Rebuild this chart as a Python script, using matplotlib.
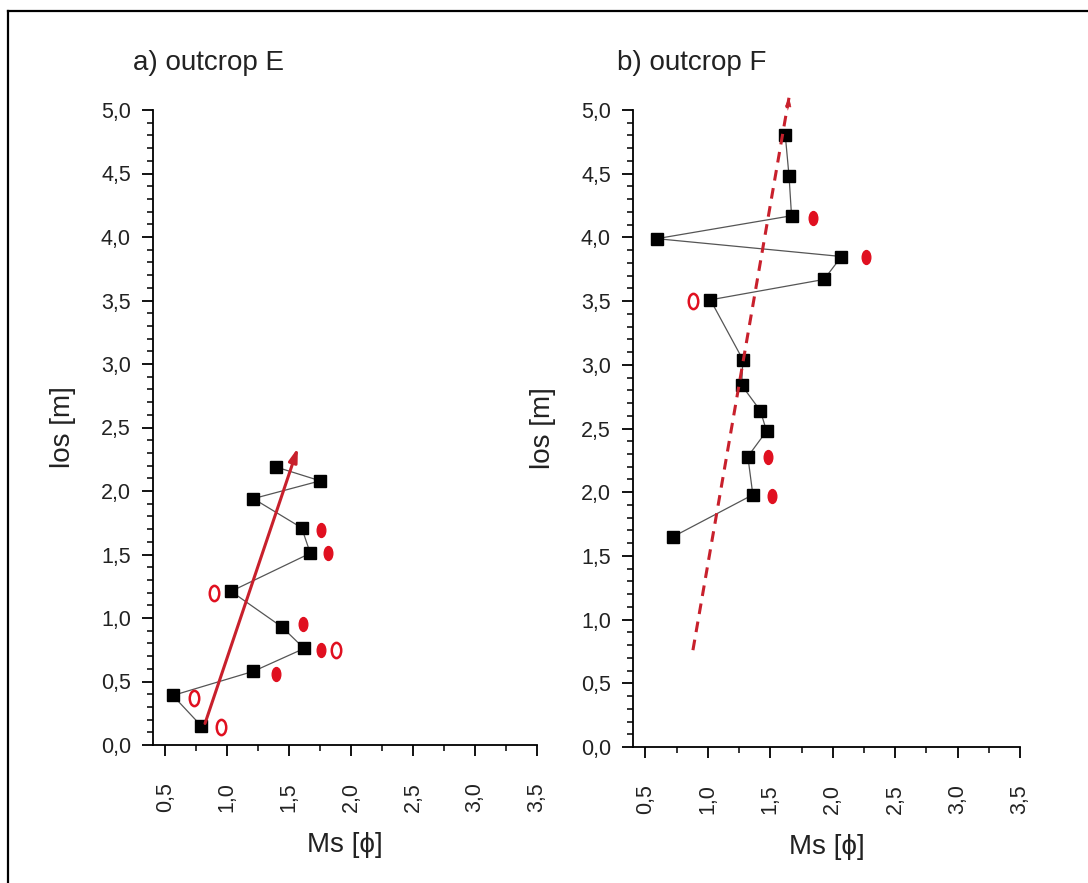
import matplotlib
matplotlib.use("Agg")
import matplotlib.pyplot as plt
import numpy as np
from matplotlib.path import Path
from matplotlib.transforms import Affine2D
from matplotlib.ticker import MultipleLocator, FuncFormatter
from matplotlib.lines import Line2D

plt.rcParams['font.family'] = ['Liberation Sans', 'DejaVu Sans']

# ── Data: outcrop E ─────────────────────────────────────
e_ms = [1.39, 1.75, 1.21, 1.60, 1.67, 1.03, 1.44, 1.62, 1.21, 0.56, 0.79]
e_los = [2.19, 2.08, 1.94, 1.71, 1.51, 1.21, 0.93, 0.76, 0.58, 0.39, 0.15]
e_fill_ms = [1.76, 1.81, 1.61, 1.76, 1.39]
e_fill_los = [1.69, 1.51, 0.95, 0.75, 0.56]
e_open_ms = [0.89, 1.88, 0.73, 0.95]
e_open_los = [1.20, 0.75, 0.37, 0.14]
e_trend_ms = [0.82, 1.57]
e_trend_los = [0.17, 2.34]

# ── Data: outcrop F ─────────────────────────────────────
f_ms = [1.62, 1.65, 1.67, 0.59, 2.07, 1.93, 1.02, 1.28, 1.27, 1.42, 1.47, 1.32, 1.36, 0.72]
f_los = [4.80, 4.48, 4.17, 3.99, 3.85, 3.67, 3.51, 3.04, 2.84, 2.64, 2.48, 2.28, 1.98, 1.65]
f_fill_ms = [1.84, 2.27, 1.48, 1.51]
f_fill_los = [4.15, 3.85, 2.28, 1.97]
f_open_ms = [0.88]
f_open_los = [3.50]
f_trend_ms = [0.88, 1.65]
f_trend_los = [0.76, 5.10]

red = "#e01020"
arrow_red = "#c8202c"

# ellipse marker
ellipse = Path.unit_circle().transformed(Affine2D().scale(0.62, 1.0))

fig = plt.figure(figsize=(10.88, 8.83), dpi=100)
axE = fig.add_axes([153 / 1088, 138 / 883, 384 / 1088, 635 / 883])
axF = fig.add_axes([633 / 1088, 136 / 883, 387 / 1088, 637 / 883])

fmt = FuncFormatter(lambda v, p: f"{v:.1f}".replace(".", ","))


def style(ax, title, title_x):
    ax.set_xlim(0.4, 3.5)
    ax.set_ylim(0, 5.0)
    ax.spines["top"].set_visible(False)
    ax.spines["right"].set_visible(False)
    for s in ("left", "bottom"):
        ax.spines[s].set_linewidth(1.3)
    ax.xaxis.set_major_locator(MultipleLocator(0.5))
    ax.xaxis.set_minor_locator(MultipleLocator(0.25))
    ax.yaxis.set_major_locator(MultipleLocator(0.5))
    ax.yaxis.set_minor_locator(MultipleLocator(0.1))
    ax.set_xticks(np.arange(0.5, 3.51, 0.5))
    ax.xaxis.set_major_formatter(fmt)
    ax.yaxis.set_major_formatter(fmt)
    ax.tick_params(which="major", direction="out", length=8, width=1.3,
                   labelsize=15.5, labelcolor="#222222")
    ax.tick_params(which="minor", direction="out", length=4.5, width=1.1)
    ax.tick_params(axis="x", which="major", pad=19, labelrotation=90)
    ax.tick_params(axis="y", which="major", pad=8)
    ax.set_xlabel("Ms [\u03d5]", fontsize=20, labelpad=14, color="#222222")
    ax.set_ylabel("los [m]", fontsize=20, labelpad=18, color="#222222")
    fig.text(title_x / 1088, 1 - 63 / 883, title, fontsize=20,
             ha="left", va="center", color="#222222")


def draw(ax, ms, los, fill_ms, fill_los, open_ms, open_los):
    ax.plot(ms, los, color="#555555", linewidth=0.9, zorder=2)
    ax.plot(ms, los, linestyle="none", marker="s", markersize=8,
            color="black", zorder=3)
    ax.plot(fill_ms, fill_los, linestyle="none", marker=ellipse,
            markersize=10, color=red, markeredgecolor=red, zorder=3)
    ax.plot(open_ms, open_los, linestyle="none", marker=ellipse,
            markersize=11, markerfacecolor="none", markeredgecolor=red,
            markeredgewidth=1.8, zorder=3)


draw(axE, e_ms, e_los, e_fill_ms, e_fill_los, e_open_ms, e_open_los)
draw(axF, f_ms, f_los, f_fill_ms, f_fill_los, f_open_ms, f_open_los)

# solid trend arrow (E)
axE.annotate("", xy=(e_trend_ms[1], e_trend_los[1]),
             xytext=(e_trend_ms[0], e_trend_los[0]),
             arrowprops=dict(arrowstyle="-|>,head_length=0.8,head_width=0.25",
                             color=arrow_red, linewidth=2.2, shrinkA=0, shrinkB=0),
             annotation_clip=False, zorder=4)

# dashed trend arrow (F)
axF.plot(f_trend_ms, f_trend_los, color=arrow_red, linewidth=2.2,
         linestyle=(0, (3.5, 2.5)), clip_on=False, zorder=4)
axF.annotate("", xy=(f_trend_ms[1], f_trend_los[1]),
             xytext=(f_trend_ms[1] - 0.01, f_trend_los[1] - 0.1),
             arrowprops=dict(arrowstyle="-|>,head_length=0.6,head_width=0.2",
                             color=arrow_red, linewidth=0.5, shrinkA=0, shrinkB=0),
             annotation_clip=False, zorder=4)

style(axE, "a) outcrop E", 133)
style(axF, "b) outcrop F", 617)

# outer frame (top and left edges visible)
fig.add_artist(Line2D([8 / 1088, 1.0], [1 - 11 / 883, 1 - 11 / 883],
                      transform=fig.transFigure, color="black", linewidth=1.6))
fig.add_artist(Line2D([8 / 1088, 8 / 1088], [0, 1 - 11 / 883],
                      transform=fig.transFigure, color="black", linewidth=1.6))

fig.savefig("out.png", dpi=100)
